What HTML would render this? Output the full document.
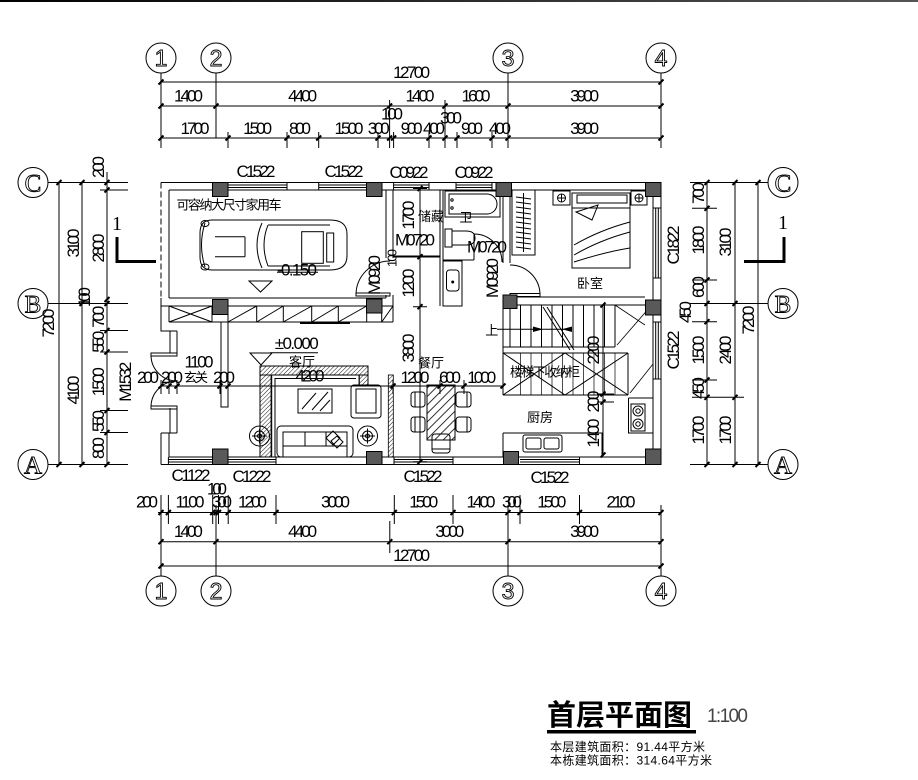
<!DOCTYPE html>
<html><head><meta charset="utf-8">
<style>
html,body{margin:0;padding:0;background:#fff;}
svg{display:block;}
text{font-family:"Liberation Sans","Noto Sans CJK SC",sans-serif;}
.n{font-size:17px;text-anchor:middle;fill:#000;}
.s{font-size:13px;text-anchor:middle;fill:#000;}
.cn{font-family:"Liberation Sans","Noto Sans CJK SC",sans-serif;font-size:13px;text-anchor:middle;fill:#000;}
.cir{font-size:23px;text-anchor:middle;fill:#fff;stroke:#000;stroke-width:0.9;}
.let{font-family:"Liberation Serif",serif;font-size:25px;text-anchor:middle;fill:#fff;stroke:#000;stroke-width:0.9;}
</style></head><body>
<svg width="918" height="780" viewBox="0 0 918 780" xmlns="http://www.w3.org/2000/svg">
<defs>
<linearGradient id="tg" x1="0" x2="1"><stop offset="0" stop-color="#000"/><stop offset="1" stop-color="#555"/></linearGradient>
<pattern id="h" width="3" height="3" patternUnits="userSpaceOnUse" patternTransform="rotate(45)"><line x1="0" y1="0" x2="0" y2="3" stroke="#000" stroke-width="0.9"/></pattern>
<pattern id="h2" width="6" height="6" patternUnits="userSpaceOnUse" patternTransform="rotate(45)"><line x1="0" y1="0" x2="0" y2="6" stroke="#000" stroke-width="1.6"/></pattern>
</defs>
<rect x="0" y="0" width="918" height="2" fill="url(#tg)"/>

<!-- ================= TOP DIMENSIONS ================= -->
<g stroke="#000" stroke-width="1" fill="none">
<circle cx="161" cy="58" r="15"/><circle cx="216" cy="58" r="15"/><circle cx="508" cy="58" r="15"/><circle cx="661" cy="58" r="15"/>
<path d="M161 73V148 M216 73V138 M508 73V148 M661 73V148"/>
<path d="M161 82H661 M161 106H661 M161 138H661"/>
<path d="M228 132V148 M287 132V148 M318.7 132V148 M378 132V148 M389.6 100V148 M393.6 132V148 M429 132V148 M445 100V148 M457 132V148 M492 132V148"/>
</g>
<g stroke="#000" stroke-width="2">
<path d="M158.5 84.5l5 -5 M658.5 84.5l5 -5"/>
<path d="M158.5 108.5l5 -5 M213.5 108.5l5 -5 M387.1 108.5l5 -5 M442.5 108.5l5 -5 M505.5 108.5l5 -5 M658.5 108.5l5 -5"/>
<path d="M158.5 140.5l5 -5 M225.5 140.5l5 -5 M284.5 140.5l5 -5 M316.2 140.5l5 -5 M375.5 140.5l5 -5 M387.1 140.5l5 -5 M391.1 140.5l5 -5 M426.5 140.5l5 -5 M442.5 140.5l5 -5 M454.5 140.5l5 -5 M489.5 140.5l5 -5 M505.5 140.5l5 -5 M658.5 140.5l5 -5"/>
</g>
<text class="cir" x="161" y="66">1</text><text class="cir" x="216" y="66">2</text><text class="cir" x="508" y="66">3</text><text class="cir" x="661" y="66">4</text>
<text class="n" x="411.6" y="78" textLength="37">12700</text>
<text class="n" x="188.5" y="101.5" textLength="29">1400</text>
<text class="n" x="302.6" y="101.5" textLength="29">4400</text>
<text class="n" x="420" y="101.5" textLength="29">1400</text>
<text class="n" x="476" y="101.5" textLength="29">1600</text>
<text class="n" x="584.6" y="101.5" textLength="29">3900</text>
<text class="n" x="195" y="134" textLength="29">1700</text>
<text class="n" x="257.6" y="134" textLength="29">1500</text>
<text class="n" x="300" y="134" textLength="22">800</text>
<text class="n" x="349" y="134" textLength="29">1500</text>
<text class="n" x="378.7" y="134" textLength="22">300</text>
<text class="n" x="411.6" y="134" textLength="22">900</text>
<text class="n" x="434" y="134" textLength="22">400</text>
<text class="n" x="472" y="134" textLength="22">900</text>
<text class="n" x="500" y="134" textLength="22">400</text>
<text class="n" x="584.6" y="134" textLength="29">3900</text>
<text class="n" x="392" y="119.5" textLength="22">100</text>
<text class="n" x="451" y="123.5" textLength="22">300</text>
<text class="n" x="256" y="177" textLength="39">C1522</text>
<text class="n" x="344" y="177" textLength="39">C1522</text>
<text class="n" x="409" y="178" textLength="39">C0922</text>
<text class="n" x="474" y="178" textLength="39">C0922</text>

<!-- ================= LEFT DIMENSIONS ================= -->
<g stroke="#000" stroke-width="1" fill="none">
<circle cx="33" cy="182.5" r="15"/><circle cx="33" cy="303.5" r="15"/><circle cx="33" cy="464.5" r="15"/>
<path d="M48 182.5H128 M48 303.5H128 M48 464.5H128 M100 190H128 M100 330.5H128 M100 352H128 M100 410.5H128 M100 432.5H128"/>
<path d="M59 182.5V464.5 M82 182.5V464.5 M107 172V464.5"/>
</g>
<g stroke="#000" stroke-width="2">
<path d="M56.5 185l5 -5 M56.5 467l5 -5 M79.5 185l5 -5 M79.5 306l5 -5 M79.5 467l5 -5"/>
<path d="M104.5 185l5 -5 M104.5 192.5l5 -5 M104.5 302l5 -5 M104.5 306l5 -5 M104.5 333l5 -5 M104.5 354.5l5 -5 M104.5 413l5 -5 M104.5 435l5 -5 M104.5 467l5 -5"/>
</g>
<text class="let" x="33" y="191.5">C</text><text class="let" x="33" y="312.5">B</text><text class="let" x="33" y="473.5">A</text>
<text class="n" x="48.3" y="328.8" transform="rotate(-90 48.3 323)" textLength="29">7200</text>
<text class="n" x="73.3" y="248.8" transform="rotate(-90 73.3 243)" textLength="29">3100</text>
<text class="n" x="73.3" y="395.8" transform="rotate(-90 73.3 390)" textLength="29">4100</text>
<text class="n" x="84" y="302.8" transform="rotate(-90 84 297)" textLength="20">100</text>
<text class="n" x="98.3" y="172.8" transform="rotate(-90 98.3 167)" textLength="22">200</text>
<text class="n" x="98.3" y="253.8" transform="rotate(-90 98.3 248)" textLength="29">2800</text>
<text class="n" x="98.3" y="322.5" transform="rotate(-90 98.3 316.7)" textLength="22">700</text>
<text class="n" x="98.3" y="347.5" transform="rotate(-90 98.3 341.7)" textLength="22">550</text>
<text class="n" x="98.3" y="387.5" transform="rotate(-90 98.3 381.7)" textLength="29">1500</text>
<text class="n" x="98.3" y="426.8" transform="rotate(-90 98.3 421)" textLength="22">550</text>
<text class="n" x="98.3" y="453.8" transform="rotate(-90 98.3 448)" textLength="22">800</text>
<text x="117" y="230" style="font-family:'Liberation Serif',serif;font-size:20px;text-anchor:middle">1</text>
<path d="M117 237V261.5H156" stroke="#000" stroke-width="3" fill="none"/>
<text class="n" x="125" y="387.5" transform="rotate(-90 125 381.7)" textLength="40">M1532</text>

<!-- ================= RIGHT DIMENSIONS ================= -->
<g stroke="#000" stroke-width="1" fill="none">
<circle cx="783" cy="182.5" r="15"/><circle cx="783" cy="303.5" r="15"/><circle cx="783" cy="464.5" r="15"/>
<path d="M690 182.5H768 M690 303.5H768 M690 464.5H768 M692 208.3H717 M692 280H717 M692 321.7H717 M692 380H717 M692 397.3H744"/>
<path d="M707 182.5V464.5 M735 182.5V464.5 M758 182.5V464.5"/>
</g>
<g stroke="#000" stroke-width="2">
<path d="M704.5 185l5 -5 M704.5 210.8l5 -5 M704.5 282.5l5 -5 M704.5 306l5 -5 M704.5 324.2l5 -5 M704.5 382.5l5 -5 M704.5 399.8l5 -5 M704.5 467l5 -5"/>
<path d="M732.5 185l5 -5 M732.5 306l5 -5 M732.5 399.8l5 -5 M732.5 467l5 -5 M755.5 185l5 -5 M755.5 467l5 -5"/>
</g>
<text class="let" x="783" y="191.5">C</text><text class="let" x="783" y="312.5">B</text><text class="let" x="783" y="473.5">A</text>
<text class="n" x="698" y="198.8" transform="rotate(-90 698 193)" textLength="22">700</text>
<text class="n" x="698" y="245.8" transform="rotate(-90 698 240)" textLength="29">1800</text>
<text class="n" x="698" y="292.8" transform="rotate(-90 698 287)" textLength="22">600</text>
<text class="n" x="685" y="317.8" transform="rotate(-90 685 312)" textLength="22">450</text>
<text class="n" x="698" y="355.8" transform="rotate(-90 698 350)" textLength="29">1500</text>
<text class="n" x="698" y="393.8" transform="rotate(-90 698 388)" textLength="22">450</text>
<text class="n" x="698" y="435.8" transform="rotate(-90 698 430)" textLength="29">1700</text>
<text class="n" x="725" y="247.8" transform="rotate(-90 725 242)" textLength="29">3100</text>
<text class="n" x="725" y="355.8" transform="rotate(-90 725 350)" textLength="29">2400</text>
<text class="n" x="725" y="435.8" transform="rotate(-90 725 430)" textLength="29">1700</text>
<text class="n" x="748" y="325.8" transform="rotate(-90 748 320)" textLength="29">7200</text>
<text x="783" y="229" style="font-family:'Liberation Serif',serif;font-size:20px;text-anchor:middle">1</text>
<path d="M784 237V261.5H744" stroke="#000" stroke-width="3" fill="none"/>
<text class="n" x="673" y="250.8" transform="rotate(-90 673 245)" textLength="39">C1822</text>
<text class="n" x="673" y="355.8" transform="rotate(-90 673 350)" textLength="39">C1522</text>

<!-- ================= BOTTOM DIMENSIONS ================= -->
<g stroke="#000" stroke-width="1" fill="none">
<circle cx="161" cy="591" r="15"/><circle cx="216" cy="591" r="15"/><circle cx="508" cy="591" r="15"/><circle cx="661" cy="591" r="15"/>
<path d="M161 495V576 M216 505V576 M508 505V576 M661 505V576"/>
<path d="M158 512.5H661 M161 541.7H661 M161 566H661"/>
<path d="M168.4 495V524 M212.7 495V524 M218.5 495V524 M228.2 495V524 M276 495V524 M394.3 495V524 M453 495V524 M520 495V524 M579.5 495V524 M389.8 521V553"/>
</g>
<g stroke="#000" stroke-width="2">
<path d="M158.5 515l5 -5 M165.9 515l5 -5 M210.2 515l5 -5 M213.5 515l5 -5 M216 515l5 -5 M225.7 515l5 -5 M273.5 515l5 -5 M391.8 515l5 -5 M450.5 515l5 -5 M505.5 515l5 -5 M517.5 515l5 -5 M577 515l5 -5 M658.5 515l5 -5"/>
<path d="M158.5 544.2l5 -5 M213.5 544.2l5 -5 M387.3 544.2l5 -5 M505.5 544.2l5 -5 M658.5 544.2l5 -5"/>
<path d="M158.5 568.5l5 -5 M658.5 568.5l5 -5"/>
</g>
<text class="cir" x="161" y="599">1</text><text class="cir" x="216" y="599">2</text><text class="cir" x="508" y="599">3</text><text class="cir" x="661" y="599">4</text>
<text class="n" x="147" y="507.5" textLength="22">200</text>
<text class="n" x="190" y="507.5" textLength="29">1100</text>
<text class="n" x="222" y="507.5" textLength="20">300</text>
<text class="n" x="252.5" y="507.5" textLength="29">1200</text>
<text class="n" x="335.5" y="507.5" textLength="29">3000</text>
<text class="n" x="423.7" y="507.5" textLength="29">1500</text>
<text class="n" x="481" y="507.5" textLength="29">1400</text>
<text class="n" x="512" y="507.5" textLength="20">300</text>
<text class="n" x="551.8" y="507.5" textLength="29">1500</text>
<text class="n" x="621" y="507.5" textLength="29">2100</text>
<text class="n" x="217" y="494.5" textLength="20">100</text>
<text class="n" x="188.4" y="537" textLength="29">1400</text>
<text class="n" x="302.6" y="537" textLength="29">4400</text>
<text class="n" x="449.7" y="537" textLength="29">3000</text>
<text class="n" x="584.6" y="537" textLength="29">3900</text>
<text class="n" x="411.6" y="561" textLength="37">12700</text>
<text class="n" x="191" y="481" textLength="39">C1122</text>
<text class="n" x="252" y="482" textLength="39">C1222</text>
<text class="n" x="423" y="482" textLength="39">C1522</text>
<text class="n" x="550" y="483" textLength="39">C1522</text>

<!-- ================= PLAN WALLS ================= -->
<g stroke="#000" stroke-width="1" fill="none">
<path d="M161 182.5H661 M169 190H653"/>
<path d="M228 185H287 M228 187.5H287 M228 182.5V190 M287 182.5V190"/>
<path d="M318.7 185H378 M318.7 187.5H378 M318.7 182.5V190"/>
<path d="M393.6 185H429 M393.6 187.5H429 M393.6 182.5V190 M429 182.5V190"/>
<path d="M456 185H492 M456 187.5H492 M456 182.5V190 M492 182.5V190"/>
<path d="M161 464.5H661 M169 457H653"/>
<path d="M168.4 459.5H212.7 M168.4 462H212.7 M168.4 457V464.5"/>
<path d="M228 459.5H276 M228 462H276 M276 457V464.5"/>
<path d="M394 459.5H453 M394 462H453 M394 457V464.5 M453 457V464.5"/>
<path d="M520 459.5H579.5 M520 462H579.5 M579.5 457V464.5"/>
<path d="M661 182.5V464.5 M653 190V457"/>
<path d="M655.7 208H658.3 M655.7 208V278 M658.3 208V278 M653 208H661 M653 278H661"/>
<path d="M655.7 322V379 M658.3 322V379 M653 322H661 M653 379H661"/>
<path d="M161 182.5V298" stroke-dasharray="6 3"/>
<path d="M169 190V298"/>
<path d="M161 298V331H177 M170 331V353 M177 331V353 M170 408V433 M177 408V433 M161 433H177 M161 433V464.5 M169 433V457"/>
<rect x="151" y="353" width="26" height="3"/><rect x="151" y="406" width="26" height="3"/>
<path d="M151 355A26 26 0 0 0 177 381 M151 407A26 26 0 0 1 177 381"/>
<path d="M169 298H386 M161 306H393 M169 322H393"/>
<path d="M169 306V322 M212 306V322 M228 306V322 M256.7 306V322 M283.3 306V322 M311.7 306V322 M338.3 306V322 M366.7 306V322 M381.7 306V322 M393 306V322"/>
<path d="M169 306L212 322 M169 322L212 306 M228 322L256.7 306 M256.7 322L283.3 306 M283.3 322L311.7 306 M311.7 322L338.3 306 M338.3 322L366.7 306 M381.7 322L393 306"/>
<rect x="221" y="322" width="7" height="85"/>
<path d="M386 190V258 M393 190V258 M386 295V298 M393 295V306"/>
<rect x="356" y="293" width="34" height="3"/>
<path d="M356 295A34 34 0 0 1 390 261"/>
<path d="M440 190V306 M443 190V306"/>
<path d="M393 256.5H440" stroke-width="2"/>
<path d="M443 260H474 M502 260H503"/>
<path d="M474 260V234 M474 234A28 28 0 0 1 502 262"/>
<rect x="443" y="261" width="19" height="45"/>
<rect x="446.5" y="270" width="12.5" height="21" rx="3"/>
<circle cx="452.7" cy="282" r="1" fill="#000"/>
<rect x="445" y="191" width="55" height="26"/>
<path d="M449 194H487A10 10 0 0 1 487 214H449Z"/>
<circle cx="452" cy="200" r="1.2"/><circle cx="452" cy="208" r="1.2"/>
<rect x="445" y="229" width="7" height="18"/>
<path d="M452 231H466Q475 231 475 238Q475 245 466 245H452"/>
<path d="M503 190V263 M510 190V263 M503 295V306 M510 297H645 M510 305H645"/>
<rect x="510" y="293.5" width="30" height="3"/>
<path d="M540 295A30 30 0 0 0 510 265"/>
<rect x="512" y="190" width="23" height="65"/>
<path d="M523.5 193V252"/>
<path d="M516 197L531 199 M516 202L531 204 M516 207L531 209 M516 212L531 214 M516 217L531 219 M516 222L531 224 M516 227L531 229 M516 232L531 234 M516 237L531 239 M516 242L531 244 M516 247L531 249"/>
<rect x="572" y="193" width="58" height="75"/>
<rect x="577" y="195" width="50" height="8"/>
<path d="M572 208H630 M576 212L598 205L592 220Z M574 255Q600 240 630 232 M574 245Q600 230 630 222 M574 262Q605 252 630 248"/>
<rect x="553" y="191" width="17" height="14"/><rect x="631" y="191" width="16" height="14"/>
<circle cx="561.5" cy="198" r="4"/><circle cx="639" cy="198" r="4"/>
<path d="M557.5 198H565.5 M561.5 194V202 M635 198H643 M639 194V202"/>
<path d="M503 306V395 M503 395H628 M503 347H615 M503 353H628 M615 305V347 M628 353V395"/>
<path d="M510 305V347 M520.5 305V347 M531 305V347 M541.5 305V347 M552 305V347 M562.5 305V347 M573 305V347 M583.5 305V347 M594 305V347 M604.5 305V347"/>
<path d="M520.5 353V395 M531 353V395 M541.5 353V395 M552 353V395 M562.5 353V395 M573 353V395 M583.5 353V395 M594 353V395 M604.5 353V395 M615 353V395" stroke-width="0.7"/>
<path d="M503 353L565 395 M503 395L565 353 M565 353L628 395 M565 395L628 353"/>
<path d="M617 345L650 307 M630 393L653 364 M615 305L645 325" stroke-width="0.8"/>
<path d="M543 307L570 350 M547 307L574 350"/>
<path d="M497 329.3H572"/>
<path d="M603 305V455 M597 394H614 M597 402H614"/>
<path d="M503 433H602V457 M503 433V457"/>
<path d="M628.5 398V433H653 M628.5 398H653"/>
<rect x="631" y="404" width="14" height="27"/>
<circle cx="638" cy="411" r="5"/><circle cx="638" cy="411" r="2.2"/>
<circle cx="638" cy="424" r="5"/><circle cx="638" cy="424" r="2.2"/>
<rect x="523" y="435" width="39" height="17" rx="2"/>
<rect x="526" y="438" width="15" height="11" rx="2"/><rect x="544" y="438" width="15" height="11" rx="2"/>
<path d="M161 386H503"/>
<path d="M161 380V394 M169 380V394 M177 380V394 M220 380V394 M228 380V394 M393 380V394 M440 380V394 M464 380V394 M503 380V394"/>
<path d="M420 188V462 M413 188.5H427 M413 256.7H427 M413 306.7H427 M413 461.7H427"/>
<path d="M260 366H368V385 M260 366V457 M271.7 457V375H359.3V385 M275 457V378.5H356"/>
<rect x="298" y="389" width="34" height="24"/>
<path d="M302 409L316 393 M312 410L328 392 M320 411L330 400"/>
<rect x="277" y="426" width="76" height="31" rx="4"/>
<path d="M283 457V432H347V457 M283 446H347 M305 432V446 M326 432V446"/>
<path d="M326 438L333 431L340 438L333 445Z M331 441L337 436L343 442L337 448Z"/>
<rect x="351" y="385" width="30" height="33" rx="3"/>
<rect x="356" y="389" width="20" height="24"/>
<circle cx="259.5" cy="436" r="10"/><circle cx="259.5" cy="436" r="5"/><circle cx="259.5" cy="436" r="2"/>
<path d="M252 436H267 M259.5 428.5V443.5"/>
<circle cx="367.5" cy="436" r="10"/><circle cx="367.5" cy="436" r="5"/><circle cx="367.5" cy="436" r="2"/>
<path d="M360 436H375 M367.5 428.5V443.5"/>
<path d="M270 352.7H318 M250 353L272 353L261 365Z"/>
<rect x="411" y="392" width="14" height="15" rx="3"/><path d="M415 392V407"/>
<rect x="411" y="417" width="14" height="15" rx="3"/><path d="M415 417V432"/>
<rect x="456" y="392" width="15" height="15" rx="3"/><path d="M467 392V407"/>
<rect x="456" y="417" width="15" height="15" rx="3"/><path d="M467 417V432"/>
<rect x="432" y="434" width="18" height="19" rx="3"/><path d="M432 449H450"/>
<path d="M212 220H330Q347 220 347 234V256Q347 270 330 270H212Q200 270 200 257V233Q200 220 212 220Z"/>
<path d="M205 223Q198 245 205 267 M215 236.7H245 M215 256.7H245 M245 236.7V256.7 M262 223Q252 245 262 268 M268 225Q260 245 268 266 M268 225H330 M268 266H330"/>
<rect x="301.7" y="231.7" width="21.6" height="31.6"/>
<rect x="326.7" y="233" width="7" height="29"/>
<ellipse cx="205" cy="223.5" rx="4" ry="3"/><ellipse cx="205" cy="267" rx="4" ry="3"/>
<path d="M277 272.3H318 M249 281L272 281L260.5 292Z"/>
</g>
<path d="M533 326.5L543 329.3L533 332Z M572 326.5L562 329.3L572 332Z" fill="#000"/>
<rect x="260" y="366" width="108" height="9" fill="url(#h)" stroke="#000" stroke-width="0.8"/>
<rect x="260" y="375" width="11" height="82" fill="url(#h)" stroke="#000" stroke-width="0.8"/>
<rect x="359" y="375" width="9" height="10" fill="url(#h)" stroke="#000" stroke-width="0.8"/>
<rect x="388.3" y="375" width="5" height="82" fill="url(#h)" stroke="#000" stroke-width="0.8"/>
<rect x="427" y="385" width="28" height="55" fill="url(#h2)" stroke="#000" stroke-width="1"/>
<path d="M300 323H350" stroke="#000" stroke-width="2"/>

<g fill="#595959" stroke="#000" stroke-width="1">
<rect x="212.5" y="182.5" width="15.5" height="14"/>
<rect x="366.5" y="182.5" width="15.5" height="14"/>
<rect x="496" y="182.5" width="15.5" height="14"/>
<rect x="645.5" y="182.5" width="15.5" height="14"/>
<rect x="212.5" y="299.5" width="15.5" height="15"/>
<rect x="366.5" y="299" width="15.5" height="14"/>
<rect x="503" y="295" width="14" height="13.5"/>
<rect x="645.5" y="300" width="15.5" height="15"/>
<rect x="212.5" y="449" width="15.5" height="15.5"/>
<rect x="366.5" y="451.5" width="15.5" height="13"/>
<rect x="503.5" y="451.5" width="15" height="13"/>
<rect x="645.5" y="449" width="15.5" height="15.5"/>
</g>
<g stroke="#000" stroke-width="2">
<path d="M417.5 191l5 -5 M417.5 259.2l5 -5 M417.5 309.2l5 -5 M417.5 464.2l5 -5"/>
<path d="M600.5 307.5l5 -5 M600.5 396.5l5 -5 M600.5 404.5l5 -5 M600.5 457.5l5 -5"/>
<path d="M158.5 388.5l5 -5 M166.5 388.5l5 -5 M174.5 388.5l5 -5 M217.5 388.5l5 -5 M225.5 388.5l5 -5 M390.5 388.5l5 -5 M437.5 388.5l5 -5 M461.5 388.5l5 -5 M500.5 388.5l5 -5"/>
</g>

<text class="cn" x="229" y="209.5" textLength="105">可容纳大尺寸家用车</text>
<text class="n" x="297" y="275.5" textLength="40">-0.150</text>
<text class="n" x="374" y="280.8" transform="rotate(-90 374 275)" textLength="40">M0920</text>
<text class="s" x="392" y="262.5" transform="rotate(-90 392 258)" textLength="18">100</text>
<text class="n" x="408.3" y="220.8" transform="rotate(-90 408.3 215)" textLength="29">1700</text>
<text class="n" x="408.3" y="288.8" transform="rotate(-90 408.3 283)" textLength="29">1200</text>
<text class="n" x="408.3" y="353.8" transform="rotate(-90 408.3 348)" textLength="29">3800</text>
<text class="cn" x="431" y="221" textLength="26">储藏</text>
<text class="n" x="415" y="245.5" textLength="40">M0720</text>
<text class="cn" x="466" y="222">卫</text>
<text class="n" x="487" y="252.5" textLength="40">M0720</text>
<text class="n" x="492" y="283.8" transform="rotate(-90 492 278)" textLength="40">M0920</text>
<text class="cn" x="590" y="288" textLength="26">卧室</text>
<text class="cn" x="491.7" y="335">上</text>
<text class="cn" x="545" y="376.5" textLength="70">楼梯下收纳柜</text>
<text class="n" x="593" y="355.8" transform="rotate(-90 593 350)" textLength="29">2200</text>
<text class="n" x="593" y="407.3" transform="rotate(-90 593 401.5)" textLength="22">200</text>
<text class="n" x="593" y="438.8" transform="rotate(-90 593 433)" textLength="29">1400</text>
<text class="cn" x="540" y="422" textLength="26">厨房</text>
<text class="n" x="296.7" y="349" textLength="44">±0.000</text>
<text class="cn" x="302" y="366.5" textLength="26">客厅</text>
<text class="n" x="310" y="381.5" textLength="29">4200</text>
<text class="n" x="199" y="367.5" textLength="29">1100</text>
<text class="n" x="148" y="382.8" textLength="22">200</text>
<text class="n" x="172" y="382.8" textLength="22">200</text>
<text class="cn" x="196" y="382" textLength="24">玄关</text>
<text class="n" x="224" y="382.8" textLength="22">200</text>
<text class="cn" x="431" y="367.5" textLength="26">餐厅</text>
<text class="n" x="415" y="382.8" textLength="29">1200</text>
<text class="n" x="450" y="382.8" textLength="22">600</text>
<text class="n" x="481.7" y="382.8" textLength="29">1000</text>

<text x="547" y="725" style="font-family:'Noto Sans CJK SC',sans-serif;font-size:29px;font-weight:bold;fill:#000" textLength="145">首层平面图</text>
<rect x="547" y="730" width="149" height="3.5" fill="#000"/>
<text x="707" y="722" style="font-family:'Liberation Sans',sans-serif;font-size:19px;fill:#444" textLength="41">1:100</text>
<text x="550" y="751" style="font-family:'Liberation Sans','Noto Sans CJK SC',sans-serif;font-size:12px;fill:#000" textLength="155">本层建筑面积：91.44平方米</text>
<text x="550" y="764.5" style="font-family:'Liberation Sans','Noto Sans CJK SC',sans-serif;font-size:12px;fill:#000" textLength="162">本栋建筑面积：314.64平方米</text>
</svg>
</body></html>
